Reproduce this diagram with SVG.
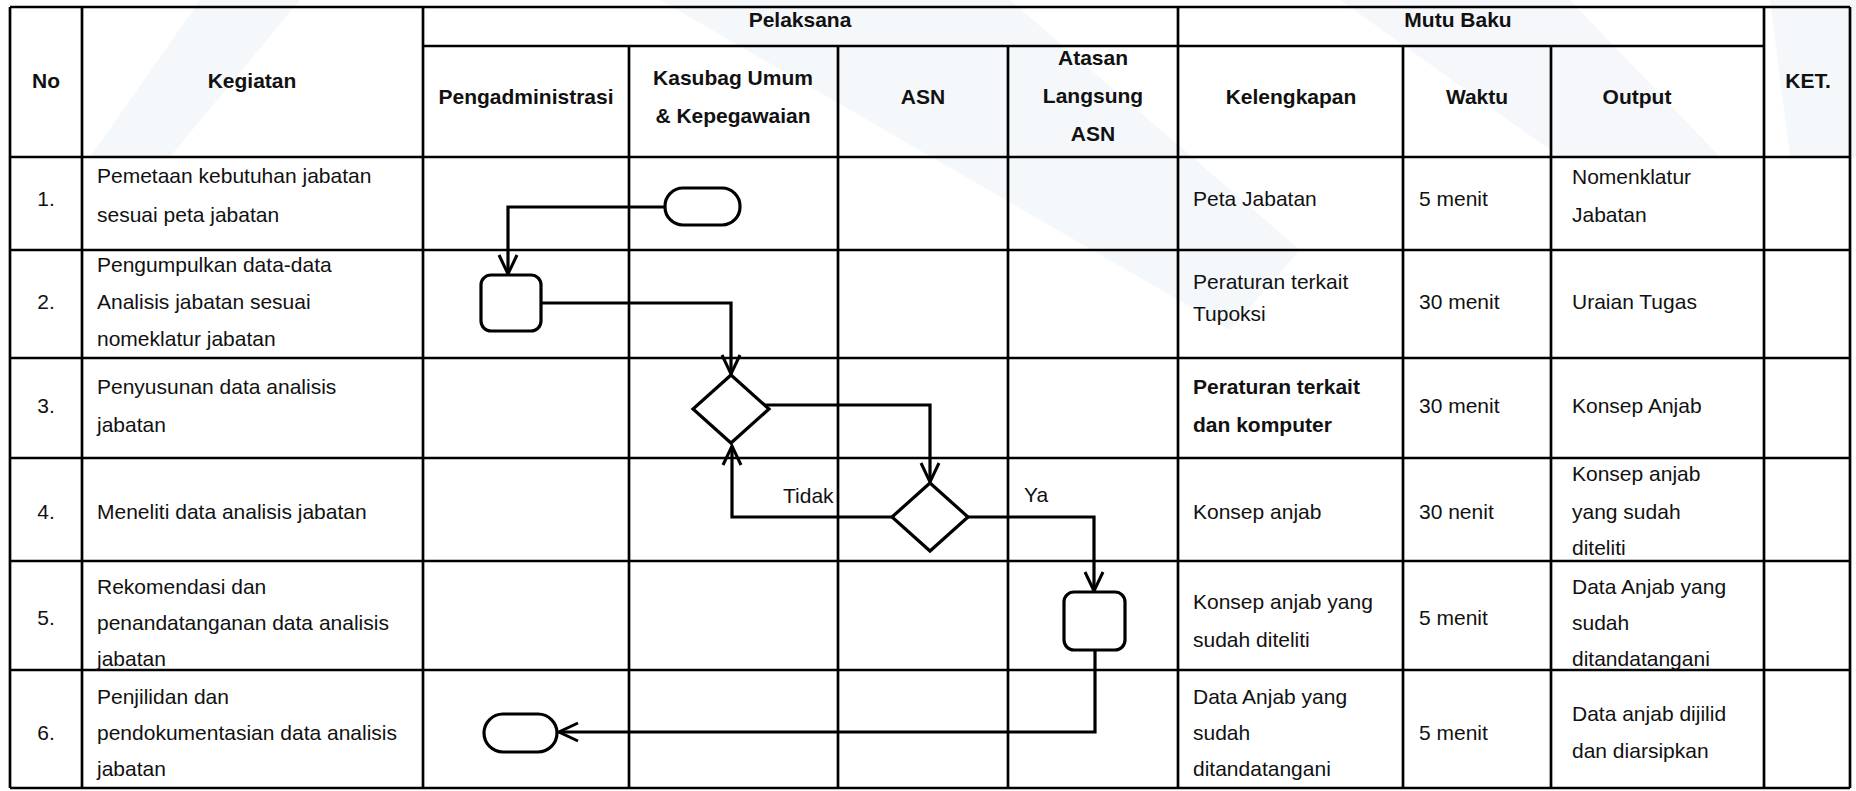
<svg xmlns="http://www.w3.org/2000/svg" width="1856" height="791" viewBox="0 0 1856 791">
<defs>
<style>
.t{font-family:"Liberation Sans",Arial,sans-serif;font-size:21px;fill:#111}
.b{font-family:"Liberation Sans",Arial,sans-serif;font-size:21px;font-weight:bold;fill:#111}
.c{text-anchor:middle}
.grid{stroke:#000;stroke-width:2.7;fill:none}
.shape{fill:#fff;stroke:#000;stroke-width:3.2}
.conn{fill:none;stroke:#000;stroke-width:3.2}
.wm{fill:#edf2f8}
</style>
<marker id="arr" markerUnits="userSpaceOnUse" markerWidth="22" markerHeight="22" viewBox="0 0 22 22" refX="20" refY="11" orient="auto">
<path d="M1,2 L20,11 L1,20" fill="none" stroke="#000" stroke-width="3"/>
</marker>
</defs>
<rect x="0" y="0" width="1856" height="791" fill="#fff"/>
<g id="watermark" opacity="0.55">
<polygon class="wm" points="660,0 1010,0 1300,250 1230,330"/>
<polygon class="wm" points="1340,0 1570,0 1720,157 1560,157"/>
<polygon class="wm" points="1770,0 1856,0 1856,157 1790,157"/>
<polygon class="wm" points="200,0 300,0 170,157 90,157"/>
</g>
<g id="table">
<line class="grid" x1="10" y1="7" x2="1850" y2="7"/>
<line class="grid" x1="423" y1="46" x2="1764" y2="46"/>
<line class="grid" x1="10" y1="157" x2="1850" y2="157"/>
<line class="grid" x1="10" y1="250" x2="1850" y2="250"/>
<line class="grid" x1="10" y1="358" x2="1850" y2="358"/>
<line class="grid" x1="10" y1="458" x2="1850" y2="458"/>
<line class="grid" x1="10" y1="561" x2="1850" y2="561"/>
<line class="grid" x1="10" y1="670" x2="1850" y2="670"/>
<line class="grid" x1="10" y1="788" x2="1850" y2="788"/>
<line class="grid" x1="10" y1="7" x2="10" y2="788"/>
<line class="grid" x1="82" y1="7" x2="82" y2="788"/>
<line class="grid" x1="423" y1="7" x2="423" y2="788"/>
<line class="grid" x1="629" y1="46" x2="629" y2="788"/>
<line class="grid" x1="838" y1="46" x2="838" y2="788"/>
<line class="grid" x1="1008" y1="46" x2="1008" y2="788"/>
<line class="grid" x1="1178" y1="7" x2="1178" y2="788"/>
<line class="grid" x1="1403" y1="46" x2="1403" y2="788"/>
<line class="grid" x1="1551" y1="46" x2="1551" y2="788"/>
<line class="grid" x1="1764" y1="7" x2="1764" y2="788"/>
<line class="grid" x1="1850" y1="7" x2="1850" y2="788"/>
</g>
<g id="header">
<text class="b c" x="46" y="88">No</text>
<text class="b c" x="252" y="88">Kegiatan</text>
<text class="b c" x="800" y="27">Pelaksana</text>
<text class="b c" x="1458" y="27">Mutu Baku</text>
<text class="b c" x="1808" y="88">KET.</text>
<text class="b c" x="526" y="104">Pengadministrasi</text>
<text class="b c" x="733" y="85">Kasubag Umum</text>
<text class="b c" x="733" y="123">&amp; Kepegawaian</text>
<text class="b c" x="923" y="104">ASN</text>
<text class="b c" x="1093" y="65">Atasan</text>
<text class="b c" x="1093" y="103">Langsung</text>
<text class="b c" x="1093" y="141">ASN</text>
<text class="b c" x="1291" y="104">Kelengkapan</text>
<text class="b c" x="1477" y="104">Waktu</text>
<text class="b c" x="1637" y="104">Output</text>
</g>
<g id="row1">
<text class="t c" x="46" y="206">1.</text>
<text class="t" x="97" y="183">Pemetaan kebutuhan jabatan</text>
<text class="t" x="97" y="222">sesuai peta jabatan</text>
<text class="t" x="1193" y="206">Peta Jabatan</text>
<text class="t" x="1419" y="206">5 menit</text>
<text class="t" x="1572" y="184">Nomenklatur</text>
<text class="t" x="1572" y="222">Jabatan</text>
</g>
<g id="row2">
<text class="t c" x="46" y="309">2.</text>
<text class="t" x="97" y="272">Pengumpulkan data-data</text>
<text class="t" x="97" y="309">Analisis jabatan sesuai</text>
<text class="t" x="97" y="346">nomeklatur jabatan</text>
<text class="t" x="1193" y="289">Peraturan terkait</text>
<text class="t" x="1193" y="321">Tupoksi</text>
<text class="t" x="1419" y="309">30 menit</text>
<text class="t" x="1572" y="309">Uraian Tugas</text>
</g>
<g id="row3">
<text class="t c" x="46" y="413">3.</text>
<text class="t" x="97" y="394">Penyusunan data analisis</text>
<text class="t" x="97" y="432">jabatan</text>
<text class="b" x="1193" y="394">Peraturan terkait</text>
<text class="b" x="1193" y="432">dan komputer</text>
<text class="t" x="1419" y="413">30 menit</text>
<text class="t" x="1572" y="413">Konsep Anjab</text>
</g>
<g id="row4">
<text class="t c" x="46" y="519">4.</text>
<text class="t" x="97" y="519">Meneliti data analisis jabatan</text>
<text class="t" x="1193" y="519">Konsep anjab</text>
<text class="t" x="1419" y="519">30 nenit</text>
<text class="t" x="1572" y="481">Konsep anjab</text>
<text class="t" x="1572" y="519">yang sudah</text>
<text class="t" x="1572" y="555">diteliti</text>
</g>
<g id="row5">
<text class="t c" x="46" y="625">5.</text>
<text class="t" x="97" y="594">Rekomendasi dan</text>
<text class="t" x="97" y="630">penandatanganan data analisis</text>
<text class="t" x="97" y="666">jabatan</text>
<text class="t" x="1193" y="609">Konsep anjab yang</text>
<text class="t" x="1193" y="647">sudah diteliti</text>
<text class="t" x="1419" y="625">5 menit</text>
<text class="t" x="1572" y="594">Data Anjab yang</text>
<text class="t" x="1572" y="630">sudah</text>
<text class="t" x="1572" y="666">ditandatangani</text>
</g>
<g id="row6">
<text class="t c" x="46" y="740">6.</text>
<text class="t" x="97" y="704">Penjilidan dan</text>
<text class="t" x="97" y="740">pendokumentasian data analisis</text>
<text class="t" x="97" y="776">jabatan</text>
<text class="t" x="1193" y="704">Data Anjab yang</text>
<text class="t" x="1193" y="740">sudah</text>
<text class="t" x="1193" y="776">ditandatangani</text>
<text class="t" x="1419" y="740">5 menit</text>
<text class="t" x="1572" y="721">Data anjab dijilid</text>
<text class="t" x="1572" y="758">dan diarsipkan</text>
</g>
<g id="connectors">
<path class="conn" d="M665,207 H508 V274" marker-end="url(#arr)"/>
<path class="conn" d="M541,303 H731 V374" marker-end="url(#arr)"/>
<path class="conn" d="M765,405 H930 V482" marker-end="url(#arr)"/>
<path class="conn" d="M892,517 H732 V446" marker-end="url(#arr)"/>
<path class="conn" d="M968,517 H1094 V591" marker-end="url(#arr)"/>
<path class="conn" d="M1095,650 V732 H559" marker-end="url(#arr)"/>
<text class="t" x="783" y="503">Tidak</text>
<text class="t" x="1024" y="502">Ya</text>
</g>
<g id="start">
<rect class="shape" x="665" y="188" width="75" height="37" rx="18"/>
</g>
<g id="step2">
<rect class="shape" x="481" y="275" width="60" height="56" rx="10"/>
</g>
<g id="decision3">
<polygon class="shape" points="731,375 769,409 731,443 693,409"/>
</g>
<g id="decision4">
<polygon class="shape" points="930,483 968,517 930,551 892,517"/>
</g>
<g id="step5">
<rect class="shape" x="1064" y="592" width="61" height="58" rx="10"/>
</g>
<g id="end">
<rect class="shape" x="484" y="714" width="73" height="38" rx="19"/>
</g>
</svg>
